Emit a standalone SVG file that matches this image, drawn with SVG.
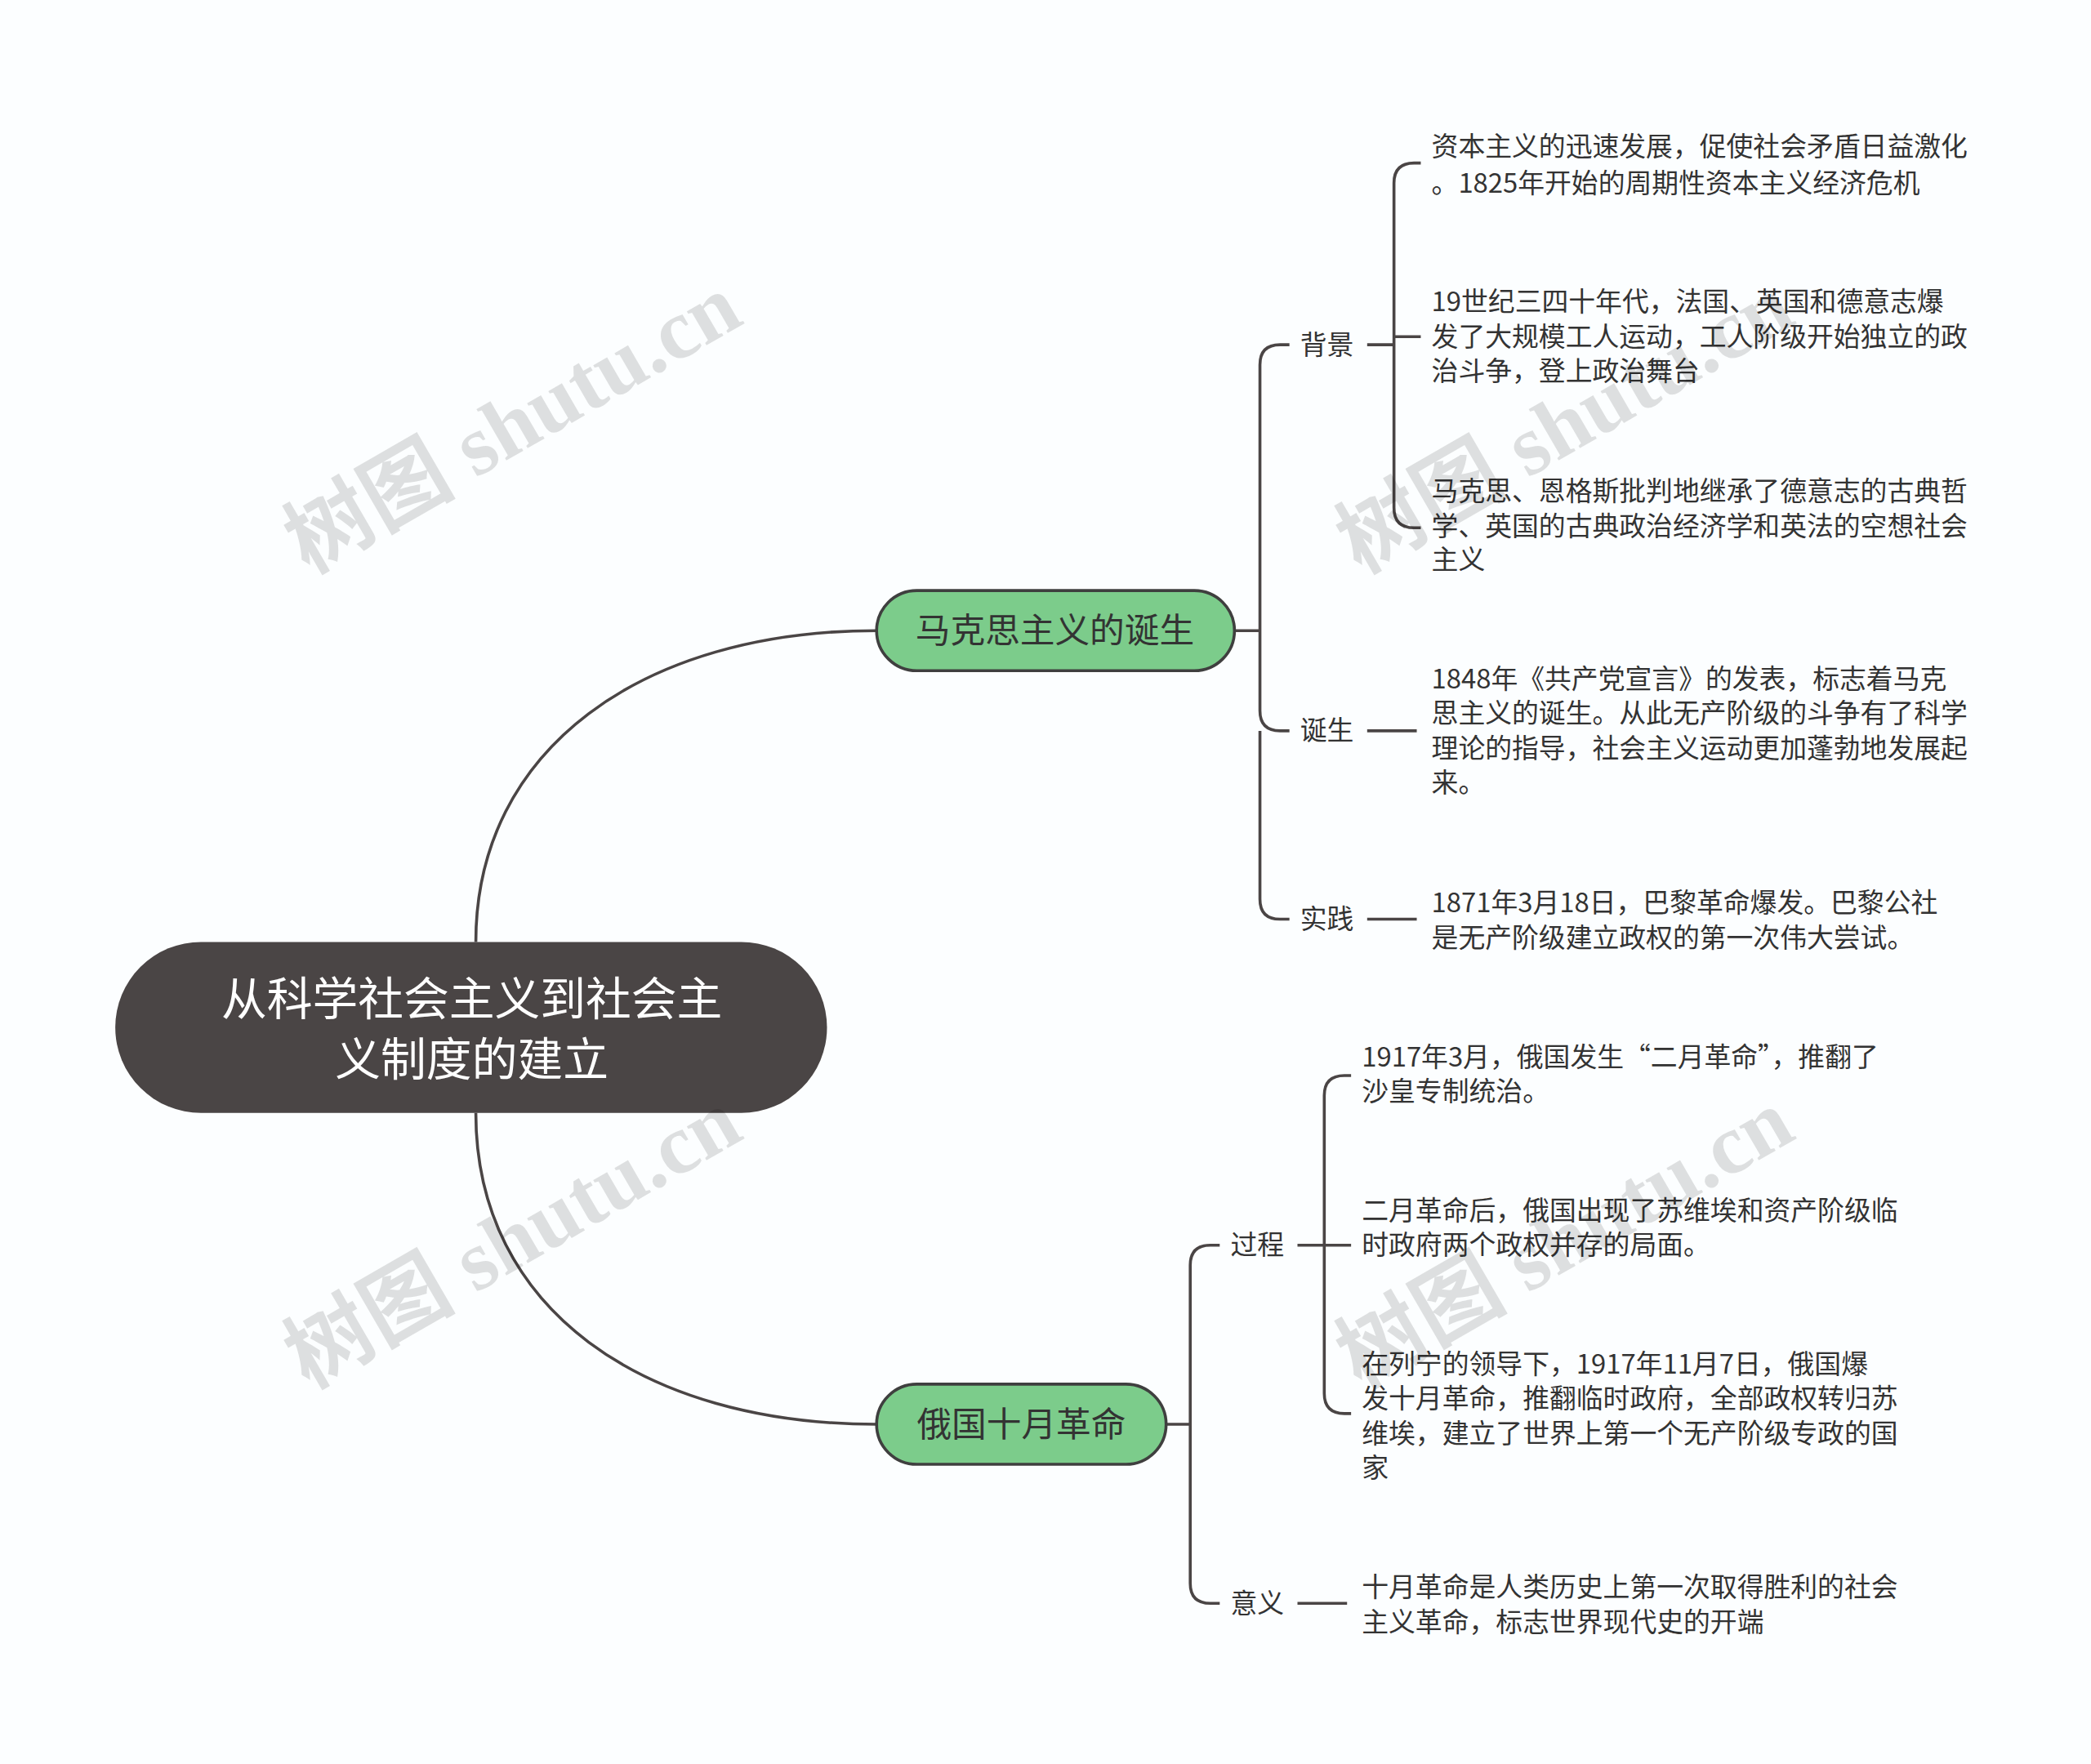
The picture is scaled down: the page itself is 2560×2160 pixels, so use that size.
<svg xmlns="http://www.w3.org/2000/svg" width="2560" height="2160" viewBox="0 0 2560 2160">
<style>
.c{fill:none;stroke:#4a4545;stroke-width:2.2}
.t{font-family:"Noto Sans CJK SC","Noto Sans",sans-serif;fill:#333;font-size:20px}
.l{font-family:"Noto Sans CJK SC","Noto Sans",sans-serif;fill:#333;font-size:20px}
.b{font-family:"Noto Sans CJK SC","Noto Sans",sans-serif;fill:#333;font-size:26px;text-anchor:middle}
.w{font-family:"Liberation Serif","Noto Sans CJK SC",serif;fill:#000;fill-opacity:0.12;font-size:64px;font-weight:bold}
</style>
<rect width="2560" height="2160" fill="#fcfeff"/>
<g transform="scale(1.641,1.636)">
<g id="connectors">
<path class="c" d="M355,705 C355,560 480,472 654,472"/>
<path class="c" d="M355,833 C355,980 480,1066 654,1066"/>
<path class="c" d="M921,472 H940 V273 Q940,258 955,258 H962 M940,472 V532 Q940,547 955,547 H962 M940,547 V673 Q940,688 955,688 H962"/>
<path class="c" d="M1020,258 H1040 V137 Q1040,122 1055,122 H1060 M1040,258 V252 M1040,252 H1060 M1040,258 V380 Q1040,395 1055,395 H1060"/>
<path class="c" d="M1020,547 H1057"/>
<path class="c" d="M1020,688 H1057"/>
<path class="c" d="M870,1066 H888 V947 Q888,932 903,932 H910 M888,1066 V1185 Q888,1200 903,1200 H910"/>
<path class="c" d="M968,932 H988 V820 Q988,805 1003,805 H1008 M988,932 H1008 M988,932 V1043 Q988,1058 1003,1058 H1008"/>
<path class="c" d="M968,1200 H1005"/>
</g>
<g id="root">
<rect x="86" y="705" width="531" height="128" rx="64" fill="#4a4545"/>
<text x="352" y="760" font-family="Noto Sans CJK SC,sans-serif" font-size="34" fill="#fff" text-anchor="middle">从科学社会主义到社会主</text>
<text x="352" y="805" font-family="Noto Sans CJK SC,sans-serif" font-size="34" fill="#fff" text-anchor="middle">义制度的建立</text>
</g>
<g id="b1">
<rect x="654" y="442" width="267" height="60" rx="30" fill="#7ccc8b" stroke="#3f3f3f" stroke-width="2.2"/>
<text class="b" x="787" y="481">马克思主义的诞生</text>
</g>
<g id="b2">
<rect x="654" y="1036" width="216" height="60" rx="30" fill="#7ccc8b" stroke="#3f3f3f" stroke-width="2.2"/>
<text class="b" x="762" y="1075">俄国十月革命</text>
</g>
<g id="l1"><text class="l" x="970" y="265">背景</text></g>
<g id="l2"><text class="l" x="970" y="554">诞生</text></g>
<g id="l3"><text class="l" x="970" y="695">实践</text></g>
<g id="l4"><text class="l" x="918" y="939">过程</text></g>
<g id="l5"><text class="l" x="918" y="1207">意义</text></g>
<g id="n1"><text class="t" x="1068" y="117">资本主义的迅速发展，促使社会矛盾日益激化</text><text class="t" x="1068" y="144">。1825年开始的周期性资本主义经济危机</text></g>
<g id="n2"><text class="t" x="1068" y="233">19世纪三四十年代，法国、英国和德意志爆</text><text class="t" x="1068" y="259">发了大规模工人运动，工人阶级开始独立的政</text><text class="t" x="1068" y="285">治斗争，登上政治舞台</text></g>
<g id="n3"><text class="t" x="1068" y="375">马克思、恩格斯批判地继承了德意志的古典哲</text><text class="t" x="1068" y="401">学、英国的古典政治经济学和英法的空想社会</text><text class="t" x="1068" y="426">主义</text></g>
<g id="n4"><text class="t" x="1068" y="515">1848年《共产党宣言》的发表，标志着马克</text><text class="t" x="1068" y="541">思主义的诞生。从此无产阶级的斗争有了科学</text><text class="t" x="1068" y="567">理论的指导，社会主义运动更加蓬勃地发展起</text><text class="t" x="1068" y="593">来。</text></g>
<g id="n5"><text class="t" x="1068" y="683">1871年3月18日，巴黎革命爆发。巴黎公社</text><text class="t" x="1068" y="709">是无产阶级建立政权的第一次伟大尝试。</text></g>
<g id="n6"><text class="t" x="1016" y="798">1917年3月，俄国发生“二月革命”，推翻了</text><text class="t" x="1016" y="824">沙皇专制统治。</text></g>
<g id="n7"><text class="t" x="1016" y="913">二月革命后，俄国出现了苏维埃和资产阶级临</text><text class="t" x="1016" y="939">时政府两个政权并存的局面。</text></g>
<g id="n8"><text class="t" x="1016" y="1028">在列宁的领导下，1917年11月7日，俄国爆</text><text class="t" x="1016" y="1054">发十月革命，推翻临时政府，全部政权转归苏</text><text class="t" x="1016" y="1080">维埃，建立了世界上第一个无产阶级专政的国</text><text class="t" x="1016" y="1106">家</text></g>
<g id="n9"><text class="t" x="1016" y="1195">十月革命是人类历史上第一次取得胜利的社会</text><text class="t" x="1016" y="1221">主义革命，标志世界现代史的开端</text></g>
<g id="watermarks">
<text class="w" transform="translate(230,430) rotate(-30)">树图 shutu.cn</text>
<text class="w" transform="translate(1015,430) rotate(-30)">树图 shutu.cn</text>
<text class="w" transform="translate(230,1040) rotate(-30)">树图 shutu.cn</text>
<text class="w" transform="translate(1015,1040) rotate(-30)">树图 shutu.cn</text>
</g>
</g>
</svg>
